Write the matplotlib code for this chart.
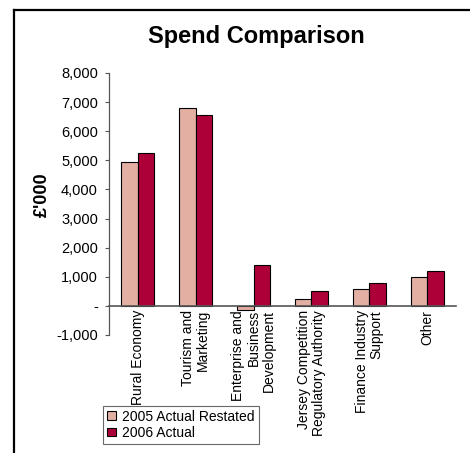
import matplotlib
matplotlib.use("Agg")
import matplotlib.pyplot as plt
import numpy as np
from matplotlib.lines import Line2D

plt.rcParams["font.family"] = ["Liberation Sans", "DejaVu Sans"]

categories = ["Rural Economy", "Tourism and\nMarketing", "Enterprise and\nBusiness\nDevelopment",
              "Jersey Competition\nRegulatory Authority", "Finance Industry\nSupport", "Other"]
actual_2005 = [4950, 6800, -150, 250, 570, 1000]
actual_2006 = [5250, 6550, 1400, 520, 800, 1200]
series_names = ["2005 Actual Restated", "2006 Actual"]
yticks = [-1000, 0, 1000, 2000, 3000, 4000, 5000, 6000, 7000, 8000]
ytick_labels = ["-1,000", "-", "1,000", "2,000", "3,000", "4,000", "5,000", "6,000", "7,000", "8,000"]

PINK, CRIMSON = "#E3AFA3", "#AE0038"

fig = plt.figure(figsize=(4.70, 4.53), dpi=100)
ax = fig.add_axes([109 / 470, 1 - 335 / 453, 347 / 470, 262 / 453])

x = np.arange(len(categories))
w = 0.286
ax.bar(x - w / 2, actual_2005, w, color=PINK, edgecolor="black", linewidth=0.8, label=series_names[0])
ax.bar(x + w / 2, actual_2006, w, color=CRIMSON, edgecolor="black", linewidth=0.8, label=series_names[1])

ax.set_xlim(-0.5, len(categories) - 0.5)
ax.set_ylim(-1000, 8000)
ax.set_yticks(yticks)
ax.set_yticklabels(ytick_labels, fontsize=10.5)
ax.tick_params(axis="y", length=3, width=0.8, color="#555555", pad=5)
ax.set_xticks([])

for s in ["top", "right"]:
    ax.spines[s].set_visible(False)
ax.spines["left"].set_color("#555555")
ax.spines["left"].set_linewidth(0.9)
ax.spines["bottom"].set_position(("data", 0))
ax.spines["bottom"].set_color("#555555")
ax.spines["bottom"].set_linewidth(1.2)

# category names hang rotated just under the zero line
for xi, name in zip(x, categories):
    ax.annotate(name, (xi, 0), xytext=(0, -3), textcoords="offset points",
                rotation=90, ha="center", va="top", multialignment="right", fontsize=10,
                linespacing=1.1)

fig.text(42 / 470, 1 - 195 / 453, "£'000", rotation=90, ha="center", va="center",
         fontsize=13, fontweight="bold")
fig.text(256 / 470, 1 - 37 / 453, "Spend Comparison", ha="center", va="center",
         fontsize=17, fontweight="bold")

leg = fig.legend(loc="lower left", bbox_to_anchor=(103 / 470, 1 - 444 / 453), fontsize=10,
                 frameon=True, fancybox=False, handlelength=0.6, handleheight=0.6,
                 handletextpad=0.5, borderpad=0.3, labelspacing=0.15, borderaxespad=0)
leg.get_frame().set_edgecolor("#444444")
leg.get_frame().set_linewidth(0.8)

# outer chart frame (top and left edges)
fig.add_artist(Line2D([14 / 470, 1.0], [1 - 10 / 453, 1 - 10 / 453], color="black", lw=1.6,
                      transform=fig.transFigure))
fig.add_artist(Line2D([14 / 470, 14 / 470], [0.0, 1 - 10 / 453], color="black", lw=1.6,
                      transform=fig.transFigure))

fig.savefig("out.png", dpi=100)
